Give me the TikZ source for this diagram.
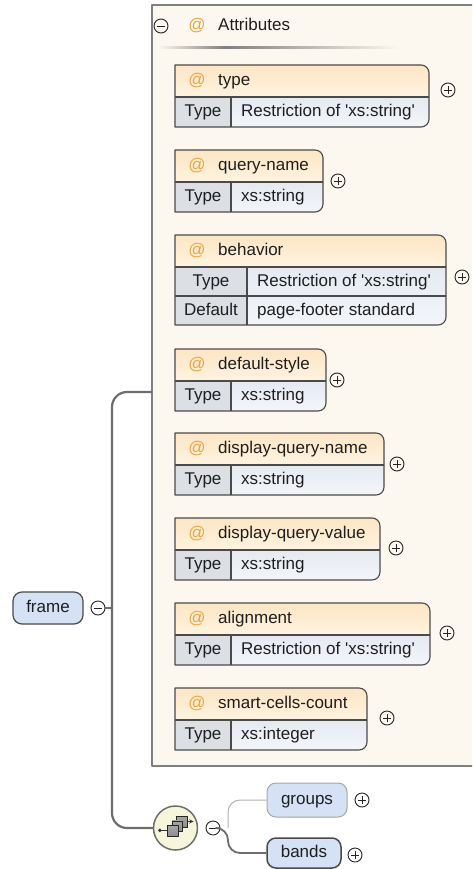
\documentclass[tikz,border=0pt]{standalone}
\usepackage{fontspec}
\setmainfont{Liberation Sans}
\usetikzlibrary{positioning}
\definecolor{panelbg}{HTML}{FDF8EF}
\definecolor{panelline}{HTML}{808080}
\definecolor{hdtop}{HTML}{FCE6C4}
\definecolor{hdbot}{HTML}{FFF3E0}
\definecolor{typecell}{HTML}{DCDFE4}
\definecolor{valtop}{HTML}{E5EAF2}
\definecolor{valbot}{HTML}{F3F5F9}
\definecolor{boxline}{HTML}{4A4A4A}
\definecolor{atcol}{HTML}{EBA73C}
\definecolor{elemfill}{HTML}{D5E2F5}
\definecolor{seqfill}{HTML}{F8F6DA}
\definecolor{conncol}{HTML}{6E6E6E}
\definecolor{txtcol}{HTML}{1E1E1E}
\begin{document}
\begin{tikzpicture}[x=1pt,y=-1pt,line join=round,>=stealth,
  txt/.style={inner sep=0pt,text=txtcol,text height=12pt,text depth=3.5pt,font=\fontsize{17}{20}\selectfont},
  atsign/.style={txt,text=atcol},
  box/.style={draw=boxline,line width=1.1pt},
  elem/.style={txt,draw=boxline,line width=1.2pt,fill=elemfill,rounded corners=9pt,minimum height=32pt},
  conn/.style={draw=conncol,line width=2.2pt},
  btn/.style={circle,draw=black!85,line width=0.9pt,minimum size=14pt,inner sep=0pt},
  pbtn/.style={btn,path picture={\draw[line width=0.9pt] ([xshift=-3.8pt]path picture bounding box.center)--([xshift=3.8pt]path picture bounding box.center) ([yshift=-3.8pt]path picture bounding box.center)--([yshift=3.8pt]path picture bounding box.center);}},
  mbtn/.style={btn,path picture={\draw[line width=0.9pt] ([xshift=-3.8pt]path picture bounding box.center)--([xshift=3.8pt]path picture bounding box.center);}}]
\clip (0,0) rectangle (472,869);
\fill[white] (0,0) rectangle (472,869);
%Attributes panel
\draw[fill=panelbg,draw=panelline,line width=2pt] (152,5) rectangle (490,766);
\node[mbtn] (amin) at (161,26) {};
\node[atsign] (aat) at (197,26) {@};
\node[txt,anchor=west] (attr) at (218,26) {Attributes};
\shade[left color=panelbg,right color=gray] (158,47) rectangle (225,49);
\shade[left color=gray,right color=panelbg] (225,47) rectangle (400,49);
%Attributes with one row
\foreach \nm/\t/\r/\px/\py/\val in {type/65/429/448/90/{Restriction of \textquotesingle xs:string\textquotesingle},query-name/150/323/338/181/xs:string,default-style/349/326/337/380/xs:string,display-query-name/433/384/397/464/xs:string,display-query-value/518/380/396/548/xs:string,alignment/603/430/447/633/{Restriction of \textquotesingle xs:string\textquotesingle},smart-cells-count/688/367/387/718/xs:integer}{
  \shade[top color=hdtop,bottom color=hdbot] (175,\t) -- (\r-8,\t) arc[start angle=-90,end angle=0,radius=8] -- (\r,\t+32) -- (175,\t+32) -- cycle;
  \fill[typecell] (175,\t+32) rectangle (231,\t+62);
  \shade[top color=valtop,bottom color=valbot] (231,\t+32) -- (\r,\t+32) -- (\r,\t+54) arc[start angle=0,end angle=90,radius=8] -- (231,\t+62) -- cycle;
  \draw[box] (175,\t) -- (\r-8,\t) arc[start angle=-90,end angle=0,radius=8] -- (\r,\t+54) arc[start angle=0,end angle=90,radius=8] -- (175,\t+62) -- cycle;
  \draw[box] (175,\t+32) -- (\r,\t+32) (231,\t+32) -- (231,\t+62);
  \node[atsign] (at-\nm) at (197,\t+16) {@};
  \node[txt,anchor=west] (n-\nm) at (218,\t+16) {\nm};
  \node[txt] (k-\nm) at (203,\t+47) {Type};
  \node[txt,anchor=west] (v-\nm) at (241,\t+47) {\val};
  \node[pbtn] (p-\nm) at (\px,\py) {};
}
%behavior (two rows)
\shade[top color=hdtop,bottom color=hdbot] (175,235) -- (438,235) arc[start angle=-90,end angle=0,radius=8] -- (446,267) -- (175,267) -- cycle;
\fill[typecell] (175,267) rectangle (247,325);
\shade[top color=valtop,bottom color=valbot] (247,267) -- (446,267) -- (446,317) arc[start angle=0,end angle=90,radius=8] -- (247,325) -- cycle;
\draw[box] (175,235) -- (438,235) arc[start angle=-90,end angle=0,radius=8] -- (446,317) arc[start angle=0,end angle=90,radius=8] -- (175,325) -- cycle;
\draw[box] (175,267) -- (446,267) (175,296) -- (446,296) (247,267) -- (247,325);
\node[atsign] (at-behavior) at (197,251) {@};
\node[txt,anchor=west] (n-behavior) at (218,251) {behavior};
\node[txt] (k-behavior) at (211,282) {Type};
\node[txt,anchor=west] (v-behavior) at (257,282) {Restriction of \textquotesingle xs:string\textquotesingle};
\node[txt] (k-default) at (211,311) {Default};
\node[txt,anchor=west] (v-default) at (257,311) {page-footer standard};
\node[pbtn] (p-behavior) at (462,277) {};
%frame and sequence
\node[elem,minimum width=70pt] (frame) at (48,608) {frame};
\node[mbtn] (fmin) at (98,608) {};
\coordinate (trunktop) at (112,392);
\coordinate (panelin) at (152,392);
\node[circle,draw=conncol,line width=1.5pt,fill=seqfill,minimum size=44pt,inner sep=0pt] (seq) at (175.5,828) {};
\draw[conn] (fmin.east) -- (fmin.east -| trunktop);
\draw[conn,rounded corners=15pt] (panelin) -- (trunktop) |- (seq.west);
%sequence icon
\begin{scope}[shift={(seq.center)},scale=1.2]
  \draw[line width=0.9pt,black!80] (-13,2) -- (-7,2);
  \fill[black!80] (-13,2) circle (1.6);
  \draw[black!85,line width=0.6pt,top color=gray!70,bottom color=gray!110!black] (1,-10) rectangle (10,-1);
  \draw[black!85,line width=0.6pt,top color=gray!70,bottom color=gray!110!black] (-3,-6) rectangle (6,3);
  \draw[black!85,line width=0.6pt,top color=gray!70,bottom color=gray!110!black] (-7,-2) rectangle (2,7);
  \draw[->,line width=0.9pt,black!80] (10,-5.5) -- (15,-5.5);
\end{scope}
\node[mbtn] (smin) at (213,828) {};
\coordinate (fork) at (228,828);
\node[elem,draw=gray!70,line width=1pt,minimum width=80pt,minimum height=34pt] (groups) at (307,800) {groups};
\node[elem,line width=1.5pt,minimum width=74pt,minimum height=30pt] (bands) at (304,853) {bands};
\node[pbtn] (p-groups) at (362,800) {};
\node[pbtn] (p-bands) at (355,855) {};
\draw[conn,line width=1.8pt,rounded corners=12pt] (smin.east) -- (fork) |- (bands.west);
\draw[draw=gray!60,line width=1pt,rounded corners=12pt] (fork) |- (groups.west);
\end{tikzpicture}
\end{document}
